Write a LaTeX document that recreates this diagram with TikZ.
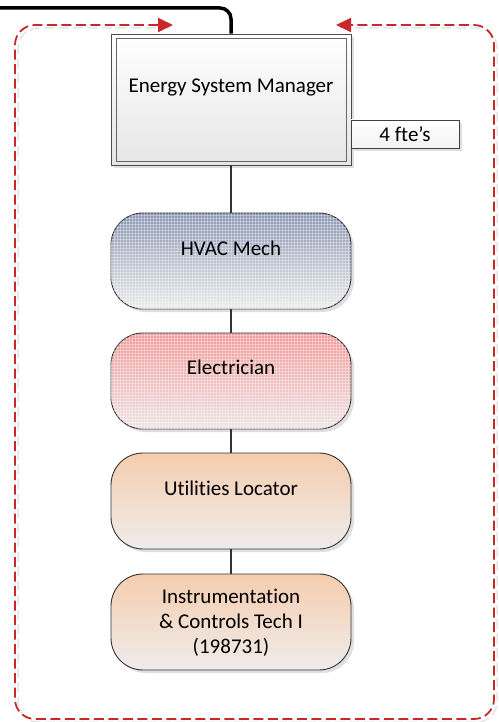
\documentclass[tikz,border=0pt]{standalone}
\usepackage{fontspec}
\setmainfont[Ligatures=NoCommon]{Carlito}
\usetikzlibrary{arrows.meta,shadows,patterns}
\definecolor{dred}{HTML}{C82828}
\definecolor{lineg}{HTML}{333333}
\definecolor{hvtop}{HTML}{8A96B4}
\definecolor{hvbot}{HTML}{ECECEC}
\definecolor{eltop}{HTML}{F29A9A}
\definecolor{elbot}{HTML}{EEE4E4}
\definecolor{pctop}{HTML}{F5CDAE}
\definecolor{pcbot}{HTML}{EFECEB}
\tikzset{
  role/.style={draw=lineg, line width=0.9pt, rounded corners=32pt, minimum width=240pt, minimum height=96pt,
    drop shadow={shadow xshift=3pt, shadow yshift=-3pt, fill=black!18, opacity=0.7}},
  gridtex/.style={postaction={pattern=grid, pattern color=white, opacity=0.35}},
  hvacfill/.style={top color=hvtop, bottom color=hvbot},
  elecfill/.style={top color=eltop, bottom color=elbot},
  peachfill/.style={top color=pctop, bottom color=pcbot},
  lbl/.style={font=\fontsize{21}{25}\selectfont, align=center, anchor=center, inner sep=0pt},
  conn/.style={draw=lineg, line width=1.3pt},
  redarrow/.style={draw=dred, line width=1.8pt, dash pattern=on 10pt off 4.5pt, rounded corners=20pt,
    {Triangle[length=15pt,width=14pt,fill=dred]}-{Triangle[length=15pt,width=14pt,fill=dred]}},
}
\begin{document}
\begin{tikzpicture}[x=1pt,y=-1pt]
\useasboundingbox (0,0) rectangle (498,722);
% dashed red loop
\coordinate (la) at (173,25);
\coordinate (ra) at (336,25);
\draw[black!10, line width=1.5pt, dash pattern=on 10pt off 4.5pt, rounded corners=20pt] (170,28) -- (18,28) -- (18,722) -- (497,722) -- (497,28) -- (340,28);
\draw[redarrow] (la) -- (15,25) -- (15,719) -- (494,719) -- (494,25) -- (ra);
% ESM
\node[draw=black!70, line width=0.9pt, minimum width=240pt, minimum height=131pt, top color=white, bottom color=black!10,
  drop shadow={shadow xshift=3pt, shadow yshift=-3pt, fill=black!18, opacity=0.7}] (esm) at (231,99.5) {};
\node[draw=black!60, line width=0.6pt, minimum width=230pt, minimum height=123pt] (esmin) at (esm.center) {};
\node[lbl] (esmt) at (231,87) {Energy System Manager};
% 4 fte's
\node[draw=black!75, line width=0.8pt, top color=white, bottom color=black!5, minimum width=108pt, minimum height=28pt,
  drop shadow={shadow xshift=3pt, shadow yshift=-3pt, fill=black!18, opacity=0.7},
  font=\fontsize{21}{22}\selectfont, inner sep=0pt] (fte) at (405,134) {4 fte’s};
% input line
\coordinate (src) at (0,8);
\draw[black, line width=3.5pt, rounded corners=11pt] (src) -| (esm.north);
% roles
\node[role, hvacfill, gridtex] (hvac) at (231,261) {};
\node[role, elecfill, gridtex] (elec) at (231,381) {};
\node[role, peachfill] (util) at (231,501) {};
\node[role, peachfill] (inst) at (231,622) {};
\node[lbl] at ([yshift=-36pt]hvac.north) {HVAC Mech};
\node[lbl] at ([yshift=-35pt]elec.north) {Electrician};
\node[lbl] at ([yshift=-36pt]util.north) {Utilities Locator};
\node[lbl] at ([yshift=-1pt]inst.center) {Instrumentation\\\& Controls Tech I\\(198731)};
% connectors
\draw[conn] (esm.south) -- (hvac.north);
\draw[conn] (hvac.south) -- (elec.north);
\draw[conn] (elec.south) -- (util.north);
\draw[conn] (util.south) -- (inst.north);
\end{tikzpicture}
\end{document}
